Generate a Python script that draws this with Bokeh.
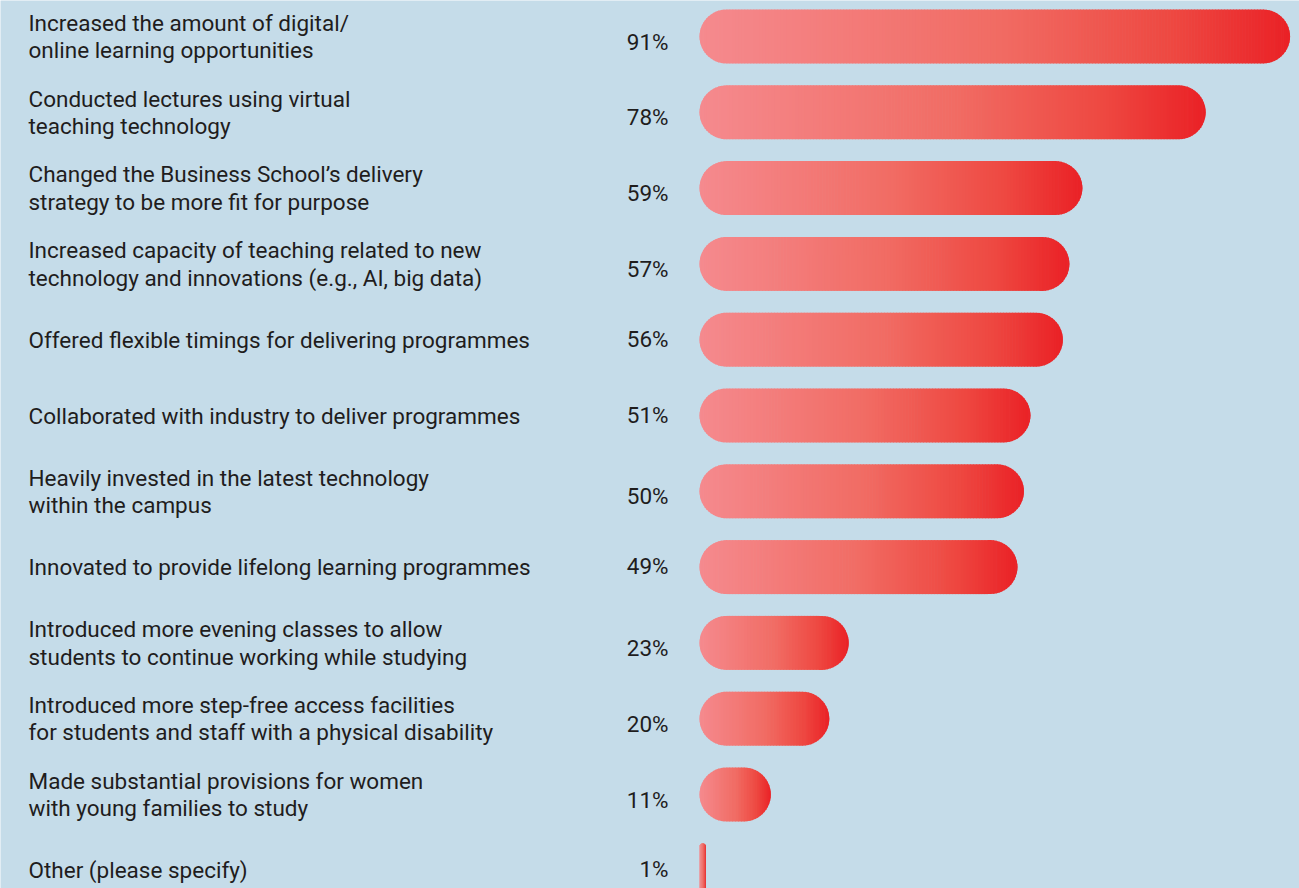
import numpy as np
from bokeh.plotting import figure
from bokeh.models import Range1d, ColumnDataSource
from bokeh.embed import file_html
from bokeh.resources import INLINE
from bokeh.core.properties import value

# ---------------- data ----------------
labels = [
    "Increased the amount of digital/\nonline learning opportunities",
    "Conducted lectures using virtual\nteaching technology",
    "Changed the Business School\u2019s delivery\nstrategy to be more fit for purpose",
    "Increased capacity of teaching related to new\ntechnology and innovations (e.g., AI, big data)",
    "Offered flexible timings for delivering programmes",
    "Collaborated with industry to deliver programmes",
    "Heavily invested in the latest technology\nwithin the campus",
    "Innovated to provide lifelong learning programmes",
    "Introduced more evening classes to allow\nstudents to continue working while studying",
    "Introduced more step-free access facilities\nfor students and staff with a physical disability",
    "Made substantial provisions for women\nwith young families to study",
    "Other (please specify)",
]
values = [91, 78, 59, 57, 56, 51, 50, 49, 23, 20, 11, 1]
pct_labels = [f"{v}%" for v in values]

# ---------------- layout / style ----------------
W, H = 1299, 888
PX_PER_PCT = 6.49
X0_PX = 699          # bar start (px)
ROW_PX = 75.8        # row spacing
ROW0_PX = 36         # first row centre (px)
BAR_H_PX = 54
LABEL_X_PX = 28
BG = "#c5dce9"
TEXT_COLOR = "#1f1d1d"
FONT = "Roboto"
FONT_SIZE = "22.5px"

stops_t = [0.0, 0.5, 0.8, 1.0]
stops_c = np.array([[245, 138, 142], [241, 108, 100], [238, 72, 65], [234, 33, 38]], dtype=float)


def grad(t):
    return "#%02x%02x%02x" % tuple(int(round(np.interp(t, stops_t, stops_c[:, k]))) for k in range(3))


def px_x(px):
    return (px - X0_PX) / PX_PER_PCT


def px_y(py):
    return (py - ROW0_PX) / ROW_PX


p = figure(width=W, height=H, min_border=0, x_axis_type=None, y_axis_type=None,
           toolbar_location=None, output_backend="svg",
           x_range=Range1d(px_x(0), px_x(W)),
           y_range=Range1d(px_y(H), px_y(0)))
p.outline_line_color = None
p.background_fill_color = BG
p.border_fill_color = BG
p.grid.visible = False

# ---------------- soft background glow (decor) ----------------
glow_sizes = np.linspace(1.0, 0.25, 12)
p.ellipse(x=[px_x(560)] * len(glow_sizes), y=[px_y(720)] * len(glow_sizes),
          width=list(900 * glow_sizes / PX_PER_PCT), height=list(700 * glow_sizes / ROW_PX),
          fill_color="white", fill_alpha=0.012, line_color=None)

# ---------------- gradient bars with rounded ends ----------------
xs, ys, cols = [], [], []
hh = BAR_H_PX / 2.0
OVER = 0.7  # px overlap between adjacent slices to hide seams
for i, v in enumerate(values):
    w = v * PX_PER_PCT
    r = min(hh, w / 2.0)
    th = np.linspace(0, np.pi / 2, 16)
    left = r * (1 - np.cos(th))
    nb = max(1, int(np.ceil((w - 2 * r) / 3.0)))
    body = np.linspace(r, w - r, nb + 1)
    right = w - left[::-1]
    edges = np.unique(np.round(np.concatenate([left, body, right]), 6))

    def half(d):
        dist = min(max(d, 0.0), max(w - d, 0.0))
        if dist >= r:
            return hh
        return (hh - r) + np.sqrt(max(r * r - (r - dist) ** 2, 0.0))

    n = len(edges) - 1
    for k in range(n):
        a, b = edges[k], edges[k + 1]
        if k < n - 1:
            b = min(b + OVER, edges[k + 2])
        ha, hb = half(a), half(b)
        xs.append([a / PX_PER_PCT, b / PX_PER_PCT, b / PX_PER_PCT, a / PX_PER_PCT])
        ys.append([i - ha / ROW_PX, i - hb / ROW_PX, i + hb / ROW_PX, i + ha / ROW_PX])
        cols.append(grad(((edges[k] + edges[k + 1]) / 2) / w))

src = ColumnDataSource(dict(xs=xs, ys=ys, c=cols))
p.patches("xs", "ys", source=src, fill_color="c", line_color=None)

# ---------------- texts ----------------
idx = list(range(len(values)))
p.text(x=[px_x(LABEL_X_PX)] * len(labels), y=idx, text=labels,
       text_font=value(FONT), text_font_size=FONT_SIZE, text_color=TEXT_COLOR,
       text_align="left", text_baseline="middle", text_line_height=1.06)

pct_src = ColumnDataSource(dict(
    x=[0] * len(values), y=idx, t=pct_labels,
    dy=[5 if "\n" in lab else -1 for lab in labels],
))
p.text(x="x", y="y", text="t", source=pct_src, x_offset=-31, y_offset="dy",
       text_font=value(FONT), text_font_size=FONT_SIZE, text_color=TEXT_COLOR,
       text_align="right", text_baseline="middle")

open("out.html", "w").write(file_html(p, INLINE))
